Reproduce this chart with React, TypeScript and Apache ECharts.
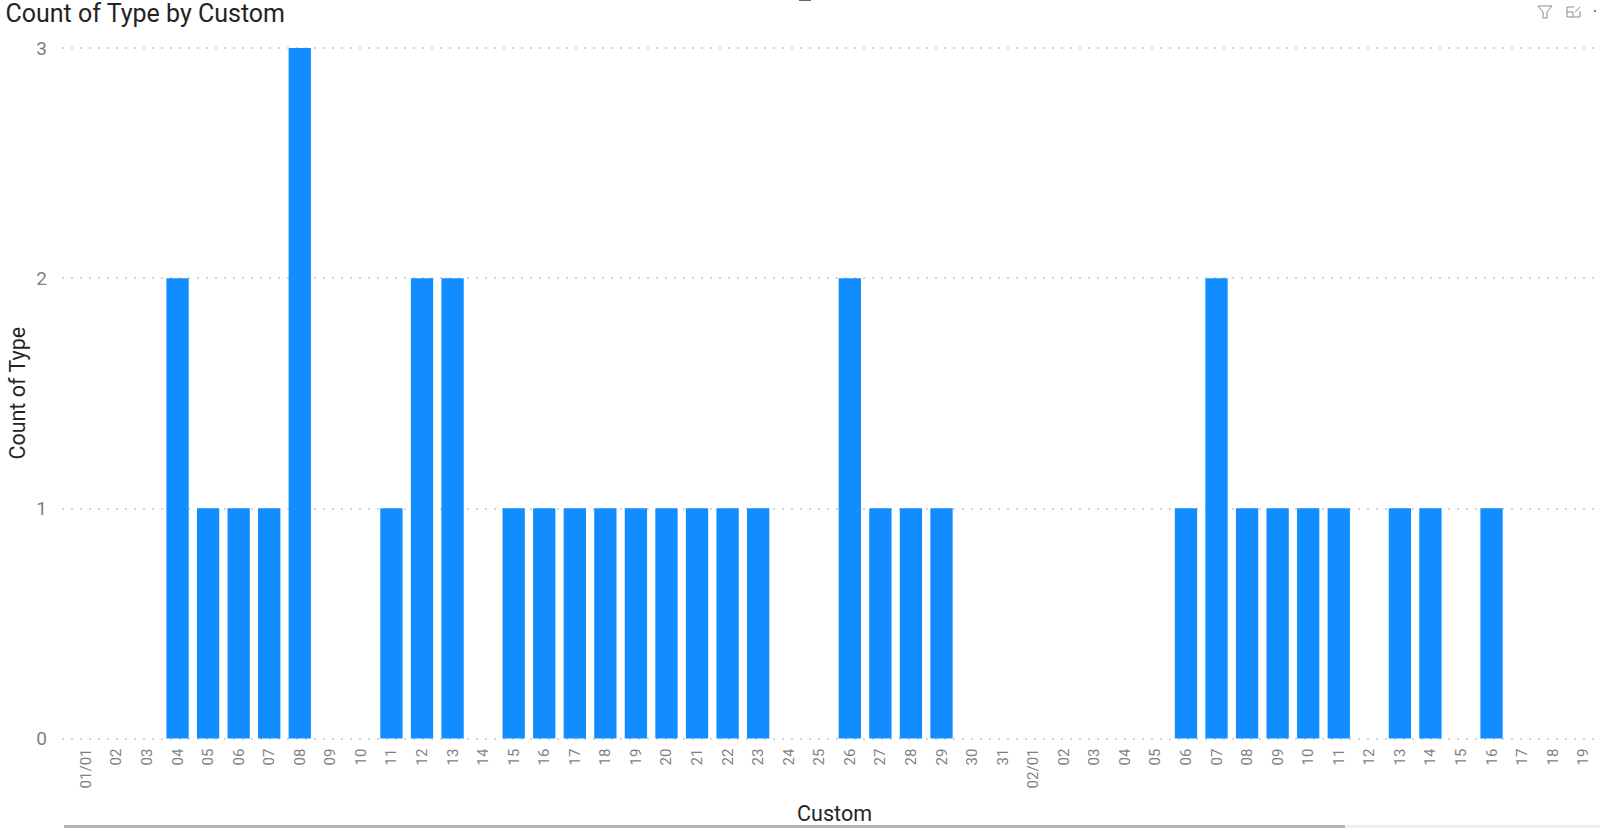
import React, { useEffect, useRef } from "react";
import * as echarts from "echarts";

const categories = ["01/01","02","03","04","05","06","07","08","09","10","11","12","13","14","15","16","17","18","19","20","21","22","23","24","25","26","27","28","29","30","31","02/01","02","03","04","05","06","07","08","09","10","11","12","13","14","15","16","17","18","19"];
const counts = [0,0,0,2,1,1,1,3,0,0,1,2,2,0,1,1,1,1,1,1,1,1,1,0,0,2,1,1,1,0,0,0,0,0,0,0,1,2,1,1,1,1,0,1,1,0,1,0,0,0];
const yTicks = { min: 0, max: 3, interval: 1 };
const titleText = "Count of Type by Custom";
const xName = "Custom";
const yName = "Count of Type";

const FONT = "Roboto";
const DARK = "#252423";
const GRAY = "#7f7f7f";
const BLUE = "#118DFF";

const W = 1600, H = 828;
const TOP = 48, BOTTOM = 738.5;

export default function App() {
  const ref = useRef<HTMLDivElement>(null);
  useEffect(() => {
    document.body.style.margin = "0";
    const chart = echarts.init(ref.current!, undefined, { renderer: "svg" });
    chart.setOption({
      animation: false,
      backgroundColor: "#ffffff",
      title: {
        text: titleText, left: 5.5, top: 1, padding: 0,
        textStyle: { fontFamily: FONT, fontSize: 25, fontWeight: "normal", color: DARK },
      },
      grid: [
        { left: 62, right: 0, top: TOP, height: BOTTOM - TOP, outerBoundsMode: "none" },
        { left: 70.6, right: 1.5, top: TOP, height: BOTTOM - TOP, outerBoundsMode: "none" },
      ],
      xAxis: [
        { gridIndex: 0, type: "category", data: [], show: false },
        {
          gridIndex: 1, type: "category", data: categories,
          axisLine: { show: false }, axisTick: { show: false },
          axisLabel: { interval: 0, rotate: 90, margin: 10, fontFamily: FONT, fontSize: 15, color: GRAY },
          name: xName, nameLocation: "middle", nameGap: 64,
          nameTextStyle: { fontFamily: FONT, fontSize: 21.5, color: DARK },
        },
      ],
      yAxis: [
        {
          gridIndex: 0, type: "value", ...yTicks,
          axisLine: { show: false }, axisTick: { show: false },
          axisLabel: { margin: 15, fontFamily: FONT, fontSize: 19, color: GRAY },
          splitLine: { lineStyle: { type: [2, 7], width: 1.5, color: "#c8c8c8" } },
          name: yName, nameLocation: "middle", nameGap: 34, nameMoveOverlap: false,
          nameTextStyle: { fontFamily: FONT, fontSize: 21.5, color: DARK },
        },
        { gridIndex: 1, type: "value", ...yTicks, show: false, splitLine: { show: false } },
      ],
      series: [
        {
          type: "bar", xAxisIndex: 1, yAxisIndex: 1, data: counts,
          barCategoryGap: "27%", itemStyle: { color: BLUE },
        },
      ],
      graphic: [
        { type: "rect", shape: { x: 64, y: 825, width: 1281, height: 3 }, style: { fill: "#b3b3b3" } },
        { type: "rect", shape: { x: 1345, y: 825, width: 255, height: 3 }, style: { fill: "#efefef" } },
        { type: "rect", shape: { x: 799, y: 0, width: 12, height: 1 }, style: { fill: "#666666" } },
        { type: "polygon", shape: { points: [[1538, 6], [1552, 6], [1547, 12], [1547, 18], [1543, 18], [1543, 12]] }, style: { fill: "none", stroke: "#8a8a8a", lineWidth: 1 } },
        { type: "polyline", shape: { points: [[1574, 7], [1567, 7], [1567, 17], [1580, 17], [1580, 11]] }, style: { fill: "none", stroke: "#8a8a8a", lineWidth: 1 } },
        { type: "line", shape: { x1: 1567, y1: 12, x2: 1573, y2: 12 }, style: { stroke: "#8a8a8a", lineWidth: 1 } },
        { type: "line", shape: { x1: 1573, y1: 12, x2: 1573, y2: 17 }, style: { stroke: "#8a8a8a", lineWidth: 1 } },
        { type: "line", shape: { x1: 1575, y1: 12, x2: 1580, y2: 7 }, style: { stroke: "#8a8a8a", lineWidth: 1 } },
        { type: "circle", shape: { cx: 1595, cy: 11, r: 1 }, style: { fill: "#666666" } },
      ],
    });
    return () => chart.dispose();
  }, []);
  return <div ref={ref} style={{ width: W, height: H }} />;
}
